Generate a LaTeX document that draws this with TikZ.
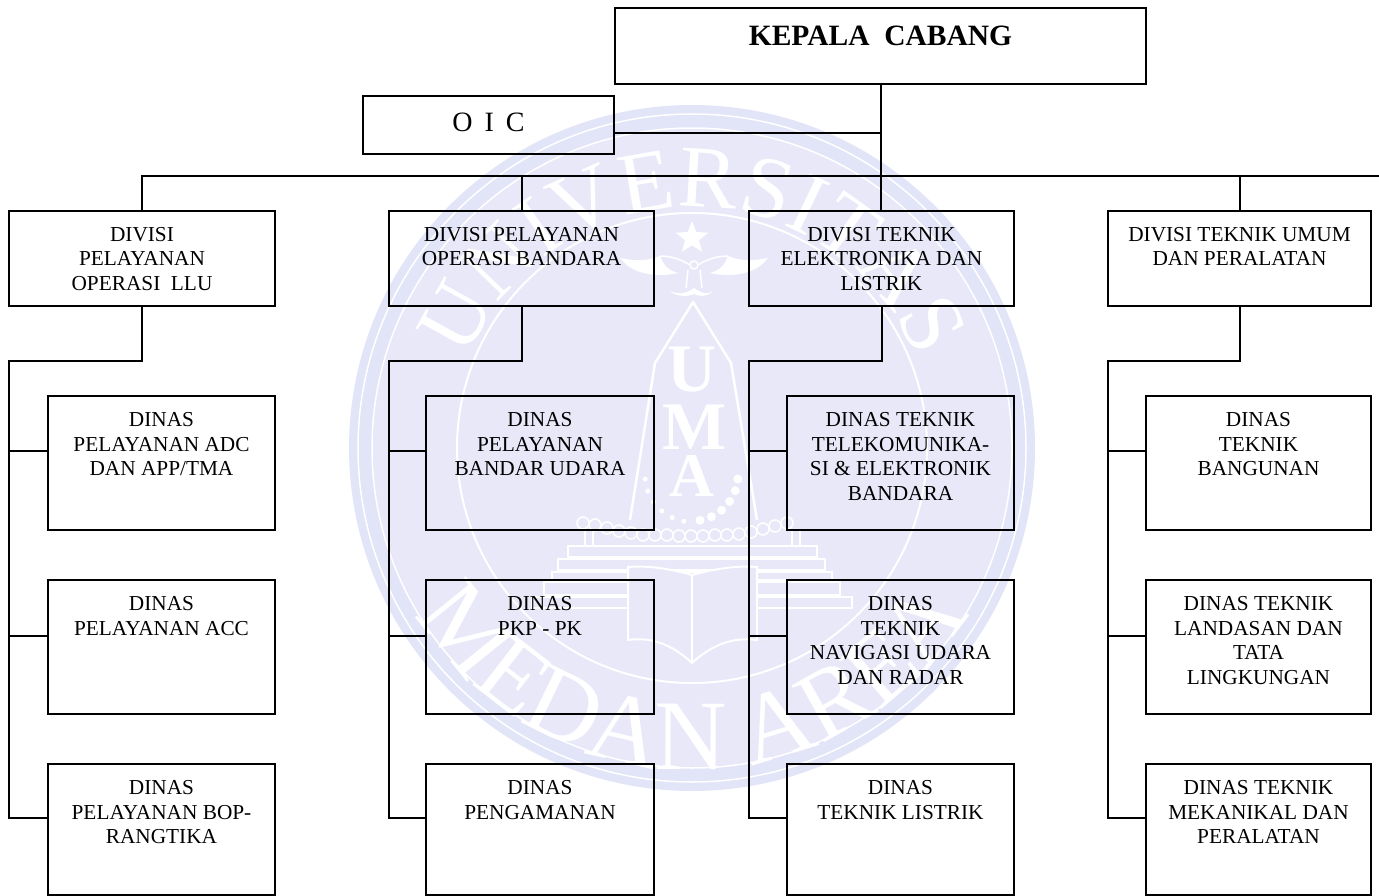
\documentclass[tikz,border=0pt]{standalone}
\usepackage{fontspec}
\setmainfont{Liberation Serif}
\usetikzlibrary{positioning, calc, decorations.text, shapes.geometric}

\definecolor{lembayung}{HTML}{E8E8F9}
\definecolor{pinggir}{HTML}{E2E4F8}

% isi kotak: teks rata tengah, mulai dari atas
\newcommand{\isi}[4][30.5]{\parbox[c][#2pt][t]{#3pt}{\fontsize{21.3}{24.5}\selectfont\centering\rule{0pt}{#1pt}#4}}

\tikzset{
    kotak/.style={draw=black, line width=2pt, inner sep=0pt},
    garis/.style={draw=black, line width=2pt},
    logo/.style={draw=white, line width=2pt},
    logotipis/.style={draw=white, line width=1.5pt},
}

\begin{document}
\begin{tikzpicture}[x=1pt, y=-1pt]

    \useasboundingbox (0,0) rectangle (1379,896);

    % Watermark
    \fill[pinggir] (692,448) circle[radius=343];
    \fill[lembayung] (692,448) circle[radius=320];
    \draw[logotipis] (692,448) circle[radius=334];
    \draw[logotipis] (692,448) circle[radius=320];
    \draw[logo] (692,448) circle[radius=235];

    \begin{scope}[shift={(692,448)}, x=1pt, y=1pt]
        \path[decorate, decoration={text along path, text align=center,
            text={|\fontsize{88}{88}\selectfont\color{white}|UNIVERSITAS}}]
            (168:241) arc[start angle=168, end angle=12, radius=241];
        \path[decorate, decoration={text along path, text align=center,
            text={|\fontsize{100}{100}\selectfont\color{white}|MEDAN AREA}}]
            (200:322) arc[start angle=200, end angle=340, radius=322];
    \end{scope}

    % Star, bird and pencil
    \node[star, star points=5, star point ratio=2.3, fill=white, inner sep=0pt, minimum size=34pt] (Bintang) at (692,238) {};
    \fill[white] (620,258) .. controls (640,262) and (650,260) .. (660,256) .. controls (664,266) and (668,270) .. (678,273)
        .. controls (655,278) and (632,274) .. (620,258);
    \fill[white] (768,258) .. controls (748,262) and (738,260) .. (728,256) .. controls (724,266) and (720,270) .. (710,273)
        .. controls (733,278) and (756,274) .. (768,258);
    \draw[logotipis] (660,256) .. controls (672,256) and (682,260) .. (690,265);
    \draw[logotipis] (728,256) .. controls (716,256) and (706,260) .. (698,265);
    \draw[logotipis] (694,265) circle[radius=4];
    \draw[logotipis] (688,270) -- (686,288) (700,270) -- (702,288);
    \fill[white] (670,291) .. controls (682,296) and (688,292) .. (694,288) .. controls (700,292) and (706,296) .. (712,291)
        .. controls (708,298) and (698,296) .. (694,294) .. controls (690,296) and (678,298) .. (670,291);
    \draw[logo, line width=2.5pt, line join=round] (630,520) -- (655,363) -- (693,302) -- (731,363) -- (757,520);

    \node[font=\fontsize{68}{68}\selectfont\bfseries, text=white, inner sep=0pt] (HurufU) at (692,370) {U};
    \node[font=\fontsize{68}{68}\selectfont\bfseries, text=white, inner sep=0pt] (HurufM) at (695,427) {M};
    \node[font=\fontsize{62}{62}\selectfont\bfseries, text=white, inner sep=0pt] (HurufA) at (692,476) {A};

    % Beads
    \foreach \sudut in {5,20,...,80} {
        \fill[white] ($(692,475)+({\sudut}:46)$) circle[radius=4.5];
    }
    \foreach \sudut in {100,115,...,175} {
        \fill[white] ($(692,475)+({\sudut}:47)$) circle[radius=2.5];
    }
    \foreach \x/\y in {583/523,595/525,607/528,619/531,631/533,643/535,655/535,667/535,679/536,691/536,703/536,715/535,727/535,739/534,751/532,763/529,775/526,787/523} {
        \draw[logotipis] (\x,\y) circle[radius=6];
    }

    % Steps
    \draw[logotipis] (585,545) -- (585,530) (593,545) -- (593,530) (792,545) -- (792,530) (800,545) -- (800,530);
    \foreach \kiri/\atas/\kanan/\bawah in {568/546/817/557, 558/559/825/570, 552/572/832/580, 544/582/840/595, 532/597/852/608} {
        \draw[logotipis] (\kiri,\atas) rectangle (\kanan,\bawah);
    }

    % Book
    \fill[lembayung] (628,567) .. controls (650,565) and (675,570) .. (692,575) .. controls (710,570) and (735,565) .. (757,567)
        -- (757,640) .. controls (730,636) and (708,648) .. (692,663) .. controls (676,648) and (655,636) .. (628,640) -- cycle;
    \draw[logo] (628,567) .. controls (650,565) and (675,570) .. (692,575) .. controls (710,570) and (735,565) .. (757,567)
        -- (757,640) .. controls (730,636) and (708,648) .. (692,663) .. controls (676,648) and (655,636) .. (628,640) -- cycle;
    \draw[logo] (692,575) -- (692,663);

    % Boxes
    \node[kotak] (K) at (880.5,46) {\isi[38]{76}{531}{{\fontsize{29.5}{32}\selectfont\bfseries KEPALA\ \ CABANG}}};
    \node[kotak] (O) at (488.5,125) {\isi[36]{58}{251}{{\fontsize{28}{32}\selectfont O\hspace{12pt}I\hspace{12pt}C}}};

    \foreach \nama/\kiri/\lebar/\teks in {
        D1/9/266/{DIVISI\\PELAYANAN\\OPERASI\ \ LLU},
        D2/389/265/{DIVISI PELAYANAN\\OPERASI BANDARA},
        D3/749/265/{DIVISI TEKNIK\\ELEKTRONIKA DAN\\LISTRIK},
        D4/1108/263/{DIVISI TEKNIK UMUM\\DAN PERALATAN}} {
        \node[kotak] (\nama) at ({\kiri+\lebar/2},258.5) {\isi{95}{\lebar}{\teks}};
    }

    \foreach \nama/\kiri/\lebar/\atas/\tinggi/\teks in {
        N11/48/227/396/134/{DINAS\\PELAYANAN ADC\\DAN APP/TMA},
        N12/48/227/580/134/{DINAS\\PELAYANAN ACC},
        N13/48/227/764/131/{DINAS\\PELAYANAN BOP-\\RANGTIKA},
        N21/426/228/396/134/{DINAS\\PELAYANAN\\BANDAR UDARA},
        N22/426/228/580/134/{DINAS\\PKP - PK},
        N23/426/228/764/131/{DINAS\\PENGAMANAN},
        N31/787/227/396/134/{DINAS TEKNIK\\TELEKOMUNIKA-\\SI \& ELEKTRONIK\\BANDARA},
        N32/787/227/580/134/{DINAS\\TEKNIK\\NAVIGASI UDARA\\DAN RADAR},
        N33/787/227/764/131/{DINAS\\TEKNIK LISTRIK},
        N41/1146/225/396/134/{DINAS\\TEKNIK\\BANGUNAN},
        N42/1146/225/580/134/{DINAS TEKNIK\\LANDASAN DAN\\TATA\\LINGKUNGAN},
        N43/1146/225/764/131/{DINAS TEKNIK\\MEKANIKAL DAN\\PERALATAN}} {
        \node[kotak] (\nama) at ({\kiri+\lebar/2},{\atas+\tinggi/2}) {\isi{\tinggi}{\lebar}{\teks}};
    }

    % Connectors
    \coordinate (BusKiri) at (D1.north |- 0,176);
    \coordinate (BusKanan) at (1379,176);
    \coordinate (Cabang) at (K.south |- O.east);

    \draw[garis] (K.south) -- (K.south |- D3.north);
    \draw[garis] ([yshift=-8pt]O.east) -- ([yshift=-8pt]Cabang);
    \draw[garis] (D1.north) |- (BusKanan);
    \draw[garis] (D2.north) -- (D2.north |- BusKiri);
    \draw[garis] (D4.north) -- (D4.north |- BusKiri);

    \foreach \k in {1,...,4} {
        \coordinate (T\k) at ([xshift=1pt,yshift=-54pt]D\k.south west);
        \draw[garis] (D\k.south) |- (T\k) -- ([yshift=12pt]N\k3.west -| T\k) -- ([yshift=12pt]N\k3.west);
        \draw[garis] ([yshift=12pt]N\k1.west -| T\k) -- ([yshift=12pt]N\k1.west);
        \draw[garis] ([yshift=11pt]N\k2.west -| T\k) -- ([yshift=11pt]N\k2.west);
    }

\end{tikzpicture}
\end{document}
